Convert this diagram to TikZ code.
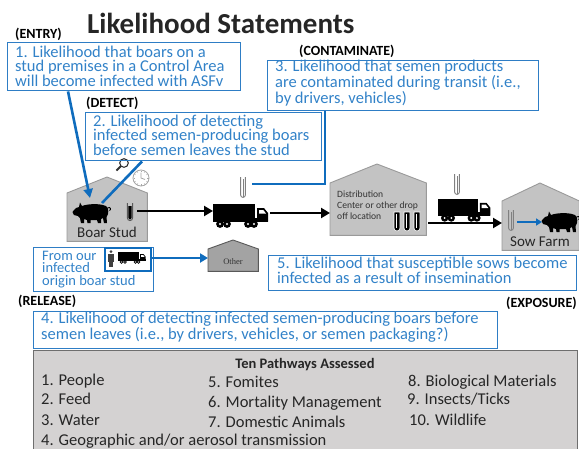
\documentclass[tikz,border=0pt]{standalone}
\usepackage{fontspec}
\setmainfont{Carlito}
\newfontfamily\smallserif{Liberation Serif}
\usetikzlibrary{arrows.meta,calc}

\definecolor{boxblue}{HTML}{2E7DC5}
\definecolor{txtblue}{HTML}{3282C8}
\definecolor{linkblue}{HTML}{0F6CBD}
\definecolor{titlegray}{HTML}{262626}
\definecolor{housefill}{HTML}{C3C3C3}
\definecolor{houseline}{HTML}{9A9A9A}
\definecolor{otherfill}{HTML}{A3A3A3}
\definecolor{panelfill}{HTML}{D4D2D2}
\definecolor{panelline}{HTML}{6E6E6E}

\tikzset{
  % pig silhouette, head to the left, centred on the origin
  pig/.pic={
    \fill[black] (-17,-3) -- (-18.5,-1) -- (-17,2) -- (-13,3) -- (-11,5) -- (-10,10) -- (-7,10)
      -- (-7,6) -- (-4,7) -- (-3.5,10) -- (-0.5,10) -- (-0.5,7) -- (6,7) -- (7,10) -- (10,10)
      -- (10,6) -- (12,5) -- (13,10) -- (16,10) -- (15.5,4)
      .. controls (18,1) and (18,-5) .. (15,-7)
      .. controls (8,-10) and (-4,-9) .. (-9,-7) -- (-11,-10.5) -- (-12,-6) -- (-15,-5) -- cycle;
    \draw[black, line width=0.9pt] (16.5,-5) .. controls (19.5,-7) and (20.5,-3) .. (18.5,-2.5);
  },
  % lorry, origin at the top left of the trailer
  truck/.pic={
    \fill[black] (0,0) rectangle (42,14);
    \fill[black] (0,14) rectangle (55,17.5);
    \fill[black] (44,4) -- (51,4) -- (55,9) -- (55,17.5) -- (44,17.5) -- cycle;
    \fill[white] (46,6) -- (50.3,6) -- (53,9.5) -- (46,9.5) -- cycle;
    \foreach \wx in {7,14,35,41}{
      \fill[black] (\wx,20) circle (3.9);
      \fill[white] (\wx,20) circle (1.1);
    }
  },
  % semen tube, outline only
  tubeline/.pic={
    \draw[gray, line width=0.9pt] (-2.4,0) -- (-2.4,18) arc(180:0:2.4) -- (2.4,0);
    \draw[gray, line width=0.7pt] (0,2) -- (0,19.5);
  },
  % semen tube, dark contents
  tubedark/.pic={
    \draw[gray!70!black, line width=0.9pt] (-2.6,0) -- (-2.6,15) arc(180:0:2.6) -- (2.6,0);
    \fill[black] (-1.6,3) -- (-1.6,15) arc(180:0:1.6) -- (1.6,3) -- cycle;
  },
  % filled semen tube with light rim
  tubefill/.pic={
    \filldraw[fill=black, draw=white, line width=0.6pt] (-3,0) -- (-3,16) arc(180:0:3) -- (3,0) -- cycle;
    \draw[white, line width=0.6pt] (-1,2) -- (-1,16);
  },
  person/.pic={
    \fill[black!75] (0,1.6) circle (1.6);
    \fill[black!75] (-2.6,4) rectangle (2.6,12);
    \fill[black!75] (-1.8,12) rectangle (-0.3,17);
    \fill[black!75] (0.3,12) rectangle (1.8,17);
  },
  lens/.pic={
    \draw[black!80, line width=1.1pt] (0,0) circle (4.3);
    \draw[black!80, line width=2pt] (-3.2,3.2) -- (-7.5,7.5);
  },
  clock/.pic={
    \draw[gray!70, line width=0.8pt, fill=white] (0,0) circle (8);
    \foreach \a in {0,30,...,330} \draw[gray!70, line width=0.5pt] (\a:6.2) -- (\a:7.5);
    \draw[gray!70, line width=0.8pt] (0,-5.5) -- (0,0) -- (4,1.5);
  },
  bluebox/.style={draw=boxblue, line width=1.4pt, anchor=north west, inner sep=0pt},
  % multi-line texts are placed by the baseline of their last line
  btext/.style={text=txtblue, font=\fontsize{16.5}{14.4}\selectfont, align=left, anchor=base west, inner sep=0pt},
  tag/.style={font=\bfseries\fontsize{14}{14}\selectfont, anchor=base west, inner sep=0pt, text=black},
  link/.style={draw=linkblue, line width=2.6pt},
  flow/.style={draw=black, line width=2.6pt, -{Triangle[length=9pt,width=10pt]}},
  bldg/.style={anchor=north west, inner sep=0pt, draw=none},
  roof/.style={fill=housefill, draw=houseline, line width=0.9pt, line join=miter},
  item/.style={font=\fontsize{16.5}{16.5}\selectfont, anchor=base west, inner sep=0pt, text=black!85},
}

\begin{document}
\begin{tikzpicture}[x=1pt, y=-1pt]
\useasboundingbox (0,0) rectangle (579,448);

% ---------- title ----------
\node[anchor=base west, font=\bfseries\fontsize{29}{29}\selectfont, text=titlegray, inner sep=0pt]
  (title) at (87,33) {Likelihood Statements};

% ---------- buildings ----------
\node[bldg, minimum width=80, minimum height=48] (stud) at (67,193) {};
\coordinate (studtop) at (107,177);
\draw[roof] (stud.south west) -- (stud.north west) -- (studtop) -- (stud.north east) -- (stud.south east) -- cycle;
\node[anchor=base, font=\fontsize{15}{15}\selectfont, text=titlegray, inner sep=0pt] (studlbl) at (107,237) {Boar Stud};
\pic at (91,213) {pig};
\pic at (130,203) {tubedark};
\pic at (124,163) {lens};
\pic at (141,178) {clock};

\node[bldg, minimum width=96, minimum height=52] (dist) at (330,183) {};
\coordinate (disttop) at (377,164);
\draw[roof] (dist.south west) -- (dist.north west) -- (disttop) -- (dist.north east) -- (dist.south east) -- cycle;
\node[anchor=base west, align=left, font=\fontsize{9.6}{11}\selectfont, text=black!80, inner sep=0pt]
  (distlbl) at (337,219) {Distribution\\Center or other drop\\off location};
\pic at (397,212) {tubefill};
\pic at (407,212) {tubefill};
\pic at (417,212) {tubefill};

\node[bldg, minimum width=77, minimum height=49] (sow) at (502,201) {};
\coordinate (sowtop) at (540,183);
\draw[roof] (sow.south west) -- (sow.north west) -- (sowtop) -- (sow.north east) -- (sow.south east) -- cycle;
\node[anchor=base, font=\fontsize{15}{15}\selectfont, text=titlegray, inner sep=0pt] (sowlbl) at (540,246.5) {Sow Farm};
\pic at (511,210) {tubeline};
\pic at (560,222) {pig};
\coordinate (sowtube) at (517,222);
\coordinate (sowpig) at (542,222);
\draw[link, line width=2.2pt, -{Triangle[length=6pt,width=7pt]}] (sowtube) -- (sowpig);

\node[bldg, minimum width=50, minimum height=22] (other) at (208,249) {};
\coordinate (othertop) at (233,240);
\draw[roof, fill=otherfill, draw=gray!70!black] (other.south west) -- (other.north west) -- (othertop) -- (other.north east) -- (other.south east) -- cycle;
\node[anchor=base, font=\smallserif\fontsize{8.5}{8.5}\selectfont, text=black!80, inner sep=0pt] (otherlbl) at (233,264) {Other};

% ---------- trucks and product flow ----------
\node[anchor=north west, minimum width=55, minimum height=24, inner sep=0pt] (truckA) at (213,204) {};
\pic at (213,204) {truck};
\pic at (243,177) {tubeline};
\node[anchor=north west, minimum width=52, minimum height=23, inner sep=0pt] (truckB) at (438,199) {};
\pic[scale=0.95] at (438,199) {truck};
\pic at (457,174) {tubeline};

\coordinate (studout) at (137,211);
\draw[flow] (studout) -- (truckA.west |- studout);
\coordinate (truckAout) at (270,213);
\draw[flow] (truckAout) -- (dist.west |- truckAout);
\coordinate (truckBout) at (428,223);
\draw[flow] (truckBout) -- (sow.west |- truckBout);

% ---------- statement boxes ----------
\node[tag] (entry) at (15,38) {(ENTRY)};
\node[bluebox, minimum width=233, minimum height=48] (b1) at (7,42) {};
\node[btext] (t1) at (15,86) {1. Likelihood that boars on a\\stud premises in a Control Area\\will become infected with ASFv};

\node[tag] (detect) at (86,107) {(DETECT)};
\node[bluebox, minimum width=236, minimum height=48] (b2) at (85,112) {};
\node[btext] (t2) at (93,155) {2. Likelihood of detecting\\infected semen-producing boars\\before semen leaves the stud};

\node[tag] (contam) at (299,55) {(CONTAMINATE)};
\node[bluebox, minimum width=271, minimum height=50] (b3) at (267,60) {};
\node[btext] (t3) at (275,103) {3. Likelihood that semen products\\are contaminated during transit (i.e.,\\by drivers, vehicles)};

\node[bluebox, minimum width=120, minimum height=44] (b6) at (33,247) {};
\node[btext, font=\fontsize{14.5}{12.5}\selectfont] (t6) at (42,285) {From our\\infected\\origin boar stud};
\node[draw=linkblue, line width=2pt, anchor=north west, minimum width=46, minimum height=23, inner sep=0pt] (icons) at (104,247) {};
\pic at (111,250) {person};
\pic[scale=0.5] at (118,252) {truck};
\draw[link, line width=2.2pt, -{Triangle[length=8pt,width=9pt]}] (icons.east |- 0,258) -- (other.west |- 0,258);

\node[bluebox, minimum width=308, minimum height=35] (b5) at (268,255) {};
\node[btext] (t5) at (277,283) {5. Likelihood that susceptible sows become\\infected as a result of insemination};

\node[tag] (release) at (18,305) {(RELEASE)};
\node[tag, anchor=base east] (exposure) at (577,307) {(EXPOSURE)};
\node[bluebox, minimum width=464, minimum height=37] (b4) at (33,311) {};
\node[btext, font=\fontsize{16.5}{13}\selectfont] (t4) at (41,339) {4. Likelihood of detecting infected semen-producing boars before\\semen leaves (i.e., by drivers, vehicles, or semen packaging?)};

% ---------- connectors from the statements ----------
\coordinate (boarA) at (90,198);
\coordinate (boarB) at (102,203);
\coordinate (tubeA) at (252,184);
\draw[link, -{Triangle[length=9pt,width=9pt]}] (b1.south west) ++(61,0) -- (boarA);
\draw[link] (b2.south west) ++(57,0) -- (boarB);
\draw[link] (b3.south west) ++(58,0) |- (tubeA);

% ---------- pathway panel ----------
\node[anchor=north west, fill=panelfill, draw=panelline, line width=1.2pt, minimum width=544, minimum height=104, inner sep=0pt]
  (panel) at (33,350) {};
\node[font=\bfseries\fontsize{14.5}{14.5}\selectfont, anchor=base, inner sep=0pt, text=black!85] (phead) at (305,368) {Ten Pathways Assessed};
\node[item] (p1) at (41,385) {1. People};
\node[item] (p2) at (41,404) {2. Feed};
\node[item] (p3) at (41,425) {3. Water};
\node[item] (p4) at (41,445) {4. Geographic and/or aerosol transmission};
\node[item] (p5) at (208,387) {5. Fomites};
\node[item] (p6) at (208,407) {6. Mortality Management};
\node[item] (p7) at (208,427) {7. Domestic Animals};
\node[item] (p8) at (408,386) {8. Biological Materials};
\node[item] (p9) at (407,404) {9. Insects/Ticks};
\node[item] (p10) at (409,425) {10. Wildlife};
\end{tikzpicture}
\end{document}
